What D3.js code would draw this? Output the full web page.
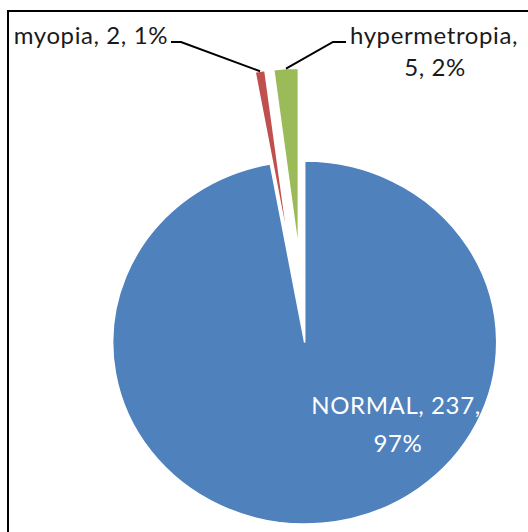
<!DOCTYPE html>
<html>
<head>
<meta charset="utf-8">
<script src="https://cdn.jsdelivr.net/npm/d3@7"></script>
<style>
  body { margin: 0; background: #fff; }
  text { font-family: Lato, "Open Sans", sans-serif; }
</style>
</head>
<body>
<div id="chart"></div>
<script>
// data
const categories = ["NORMAL", "myopia", "hypermetropia"];
const counts = [237, 2, 5];
const percents = ["97%", "1%", "2%"];
const colors = ["#4F81BD", "#C0504D", "#9BBB59"];
const exploded = ["myopia", "hypermetropia"];

const width = 528, height = 532;
const cx = 304.7, cy = 342.5;
const ry = 181.5, rx = 192;     // picture is a bit wider than tall
const explode = 93;

const svg = d3.select("#chart").append("svg")
    .attr("width", width).attr("height", height);

// frame (runs off the right and bottom of the picture)
svg.append("rect")
    .attr("x", 8).attr("y", 11)
    .attr("width", 540).attr("height", 540)
    .attr("fill", "none")
    .attr("stroke", "#000")
    .attr("stroke-width", 2);

let rows = categories.map((c, i) => ({name: c, count: counts[i], pct: percents[i], color: colors[i]}));

let pie = d3.pie().sort(null).value(d => d.count);
let arcs = pie(rows);
let arc = d3.arc().innerRadius(0).outerRadius(ry);

let sx = rx / ry;
let gPie = svg.append("g")
    .attr("transform", "translate(" + cx + "," + cy + ") scale(" + sx + ",1)");

function offset(d) {
    if (exploded.indexOf(d.data.name) < 0) return [0, 0];
    let mid = (d.startAngle + d.endAngle) / 2;
    return [Math.sin(mid) * explode, -Math.cos(mid) * explode];
}

gPie.selectAll("path")
    .data(arcs)
    .enter()
    .append("path")
    .attr("d", arc)
    .attr("transform", d => "translate(" + offset(d)[0] + "," + offset(d)[1] + ")")
    .attr("fill", d => d.data.color)
    .attr("stroke", "#fff")
    .attr("stroke-width", 1.5)
    .attr("vector-effect", "non-scaling-stroke");

// point on the outer edge of a slice, in page coords
function edgePoint(d) {
    let mid = (d.startAngle + d.endAngle) / 2;
    let o = offset(d);
    return [cx + (Math.sin(mid) * ry + o[0]) * sx, cy - Math.cos(mid) * ry + o[1]];
}

let lbl = svg.append("g")
    .attr("font-size", "24px")
    .attr("letter-spacing", "0.6px");

// myopia label on the left
let myo = arcs[1];
let pMyo = edgePoint(myo);
lbl.append("text")
    .attr("x", 168).attr("y", 44)
    .attr("text-anchor", "end")
    .attr("fill", "#1a1a1a")
    .text(myo.data.name + ", " + myo.data.count + ", " + myo.data.pct);
svg.append("polyline")
    .attr("points", [[171, 42], [181, 42], pMyo].map(p => p.join(",")).join(" "))
    .attr("fill", "none").attr("stroke", "#000").attr("stroke-width", 2);

// hypermetropia label on the right, two lines
let hyp = arcs[2];
let pHyp = edgePoint(hyp);
let tHyp = lbl.append("text")
    .attr("text-anchor", "middle")
    .attr("fill", "#1a1a1a");
tHyp.append("tspan").attr("x", 434).attr("y", 44).text(hyp.data.name + ",");
tHyp.append("tspan").attr("x", 435).attr("y", 76).text(hyp.data.count + ", " + hyp.data.pct);
svg.append("polyline")
    .attr("points", [[346, 42], [333, 42], pHyp].map(p => p.join(",")).join(" "))
    .attr("fill", "none").attr("stroke", "#000").attr("stroke-width", 2);

// NORMAL label inside the big slice
let nor = arcs[0];
let tNor = lbl.append("text")
    .attr("text-anchor", "middle")
    .attr("fill", "#fff");
tNor.append("tspan").attr("x", 396).attr("y", 414).text(nor.data.name + ", " + nor.data.count + ",");
tNor.append("tspan").attr("x", 398).attr("y", 452).text(nor.data.pct);
</script>
</body>
</html>
